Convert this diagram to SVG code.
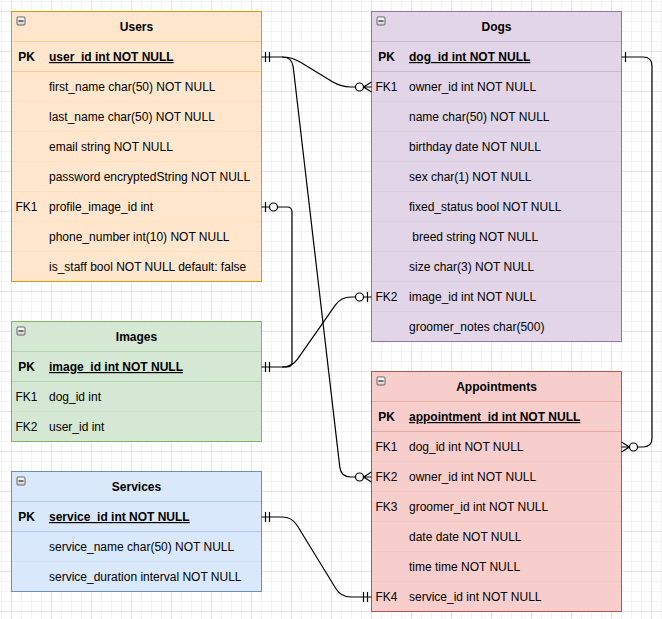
<svg xmlns="http://www.w3.org/2000/svg" width="662" height="619" viewBox="0 0 662 619">
<defs>
<pattern id="grid" x="11" y="11" width="40" height="40" patternUnits="userSpaceOnUse">
<path d="M10.5 0V40M20.5 0V40M30.5 0V40M0 10.5H40M0 20.5H40M0 30.5H40" stroke="#f3f3f3" stroke-width="1" fill="none"/>
<path d="M0.5 0V40M0 0.5H40" stroke="#e4e4e4" stroke-width="1" fill="none"/>
</pattern>
<linearGradient id="btn" x1="0" y1="0" x2="0" y2="1"><stop offset="0" stop-color="#ffffff"/><stop offset="1" stop-color="#d0d0d0"/></linearGradient>
<g id="collapse"><rect x="0.5" y="0.5" width="8" height="8" fill="url(#btn)" stroke="#666" stroke-width="1" rx="1"/><path d="M2 4.5H7" stroke="#222" stroke-width="1.2"/></g>
</defs>
<style>
text{font-family:"Liberation Sans",Arial,Helvetica,sans-serif;font-size:12px;fill:#000;}
.title{font-weight:bold;text-anchor:middle;}
.key{text-anchor:middle;}
.pk{font-weight:bold;}
.pkf{font-weight:bold;text-decoration:underline;}
.sep{stroke-width:1;fill:none;}
.edge{fill:none;stroke:#000;stroke-width:1.2;}
.mk{fill:none;stroke:#000;stroke-width:1.2;}
.circ{fill:#fff;stroke:#000;stroke-width:1.2;}
</style>
<rect width="662" height="619" fill="#fff"/>
<rect width="662" height="619" fill="url(#grid)"/>

<g id="users">
<rect x="11.5" y="11.5" width="250" height="270" fill="#ffe6cc" stroke="#d79b00"/>
<path class="sep" stroke="#d79b00" stroke-opacity="0.3" d="M11.5 41.5H261.5M11.5 71.5H261.5"/>
<path class="sep" stroke="#d79b00" stroke-opacity="0.07" d="M11.5 101.5H261.5M11.5 131.5H261.5M11.5 161.5H261.5M11.5 191.5H261.5M11.5 221.5H261.5M11.5 251.5H261.5"/>
<use href="#collapse" x="16.5" y="16.5"/>
<text class="title" x="136.5" y="31">Users</text>
<text class="key pk" x="26.5" y="61">PK</text>
<text class="pkf" x="49" y="61">user_id int NOT NULL</text>
<text x="49" y="91">first_name char(50) NOT NULL</text>
<text x="49" y="121">last_name char(50) NOT NULL</text>
<text x="49" y="151">email string NOT NULL</text>
<text x="49" y="181">password encryptedString NOT NULL</text>
<text class="key" x="26.5" y="211">FK1</text>
<text x="49" y="211">profile_image_id int</text>
<text x="49" y="241">phone_number int(10) NOT NULL</text>
<text x="49" y="271">is_staff bool NOT NULL default: false</text>
</g>

<g id="dogs">
<rect x="371.5" y="11.5" width="250" height="330" fill="#e1d5e7" stroke="#9673a6"/>
<path class="sep" stroke="#9673a6" stroke-opacity="0.3" d="M371.5 41.5H621.5M371.5 71.5H621.5"/>
<path class="sep" stroke="#9673a6" stroke-opacity="0.07" d="M371.5 101.5H621.5M371.5 131.5H621.5M371.5 161.5H621.5M371.5 191.5H621.5M371.5 221.5H621.5M371.5 251.5H621.5M371.5 281.5H621.5M371.5 311.5H621.5"/>
<use href="#collapse" x="376.5" y="16.5"/>
<text class="title" x="496.5" y="31">Dogs</text>
<text class="key pk" x="386.5" y="61">PK</text>
<text class="pkf" x="409" y="61">dog_id int NOT NULL</text>
<text class="key" x="386.5" y="91">FK1</text>
<text x="409" y="91">owner_id int NOT NULL</text>
<text x="409" y="121">name char(50) NOT NULL</text>
<text x="409" y="151">birthday date NOT NULL</text>
<text x="409" y="181">sex char(1) NOT NULL</text>
<text x="409" y="211">fixed_status bool NOT NULL</text>
<text x="409" y="241" xml:space="preserve" style="white-space:pre"> breed string NOT NULL</text>
<text x="409" y="271">size char(3) NOT NULL</text>
<text class="key" x="386.5" y="301">FK2</text>
<text x="409" y="301">image_id int NOT NULL</text>
<text x="409" y="331">groomer_notes char(500)</text>
</g>

<g id="images">
<rect x="11.5" y="321.5" width="250" height="120" fill="#d5e8d4" stroke="#82b366"/>
<path class="sep" stroke="#82b366" stroke-opacity="0.35" d="M11.5 351.5H261.5M11.5 381.5H261.5"/>
<path class="sep" stroke="#82b366" stroke-opacity="0.07" d="M11.5 411.5H261.5"/>
<use href="#collapse" x="16.5" y="326.5"/>
<text class="title" x="136.5" y="341">Images</text>
<text class="key pk" x="26.5" y="371">PK</text>
<text class="pkf" x="49" y="371">image_id int NOT NULL</text>
<text class="key" x="26.5" y="401">FK1</text>
<text x="49" y="401">dog_id int</text>
<text class="key" x="26.5" y="431">FK2</text>
<text x="49" y="431">user_id int</text>
</g>

<g id="services">
<rect x="11.5" y="471.5" width="250" height="120" fill="#dae8fc" stroke="#6c8ebf"/>
<path class="sep" stroke="#6c8ebf" stroke-opacity="0.35" d="M11.5 501.5H261.5M11.5 531.5H261.5"/>
<path class="sep" stroke="#6c8ebf" stroke-opacity="0.07" d="M11.5 561.5H261.5"/>
<use href="#collapse" x="16.5" y="476.5"/>
<text class="title" x="136.5" y="491">Services</text>
<text class="key pk" x="26.5" y="521">PK</text>
<text class="pkf" x="49" y="521">service_id int NOT NULL</text>
<text x="49" y="551">service_name char(50) NOT NULL</text>
<text x="49" y="581">service_duration interval NOT NULL</text>
</g>

<g id="appointments">
<rect x="371.5" y="371.5" width="250" height="240" fill="#f8cecc" stroke="#b85450"/>
<path class="sep" stroke="#b85450" stroke-opacity="0.3" d="M371.5 401.5H621.5M371.5 431.5H621.5"/>
<path class="sep" stroke="#b85450" stroke-opacity="0.07" d="M371.5 461.5H621.5M371.5 491.5H621.5M371.5 521.5H621.5M371.5 551.5H621.5M371.5 581.5H621.5"/>
<use href="#collapse" x="376.5" y="376.5"/>
<text class="title" x="496.5" y="391">Appointments</text>
<text class="key pk" x="386.5" y="421">PK</text>
<text class="pkf" x="409" y="421">appointment_id int NOT NULL</text>
<text class="key" x="386.5" y="451">FK1</text>
<text x="409" y="451">dog_id int NOT NULL</text>
<text class="key" x="386.5" y="481">FK2</text>
<text x="409" y="481">owner_id int NOT NULL</text>
<text class="key" x="386.5" y="511">FK3</text>
<text x="409" y="511">groomer_id int NOT NULL</text>
<text x="409" y="541">date date NOT NULL</text>
<text x="409" y="571">time time NOT NULL</text>
<text class="key" x="386.5" y="601">FK4</text>
<text x="409" y="601">service_id int NOT NULL</text>
</g>

<g id="connectors">
<path class="edge" d="M261.5 57L282 57Q292 57 300.5 62.2L332.5 81.8Q341 87 351 87L355.5 87"/>
<path class="edge" d="M282 57Q292 57 293.2 66.9L339.8 467.1Q341 477 351 477L355.5 477"/>
<path class="edge" d="M277.5 207L287 207Q292 207 292 212L292 362Q292 367 287 367L261.5 367"/>
<path class="edge" d="M282 367Q292 367 297.7 358.8L335.3 305.2Q341 297 351 297L355.5 297"/>
<path class="edge" d="M261.5 517L282 517Q292 517 297.2 525.5L335.8 588.5Q341 597 351 597L371.5 597"/>
<path class="edge" d="M621.5 57L643 57Q652 57 652 66L652 438Q652 447 643 447L637.5 447"/>

<path class="mk" d="M265.5 52V62M269.5 52V62"/>
<path class="mk" d="M363.5 87L371.5 82M363.5 87L371.5 92M363.5 87H371.5"/>
<circle class="circ" cx="359.5" cy="87" r="4"/>
<path class="mk" d="M363.5 477L371.5 472M363.5 477L371.5 482M363.5 477H371.5"/>
<circle class="circ" cx="359.5" cy="477" r="4"/>
<path class="mk" d="M261.5 207H269.5M265.5 202V212"/>
<circle class="circ" cx="273.5" cy="207" r="4"/>
<path class="mk" d="M265.5 362V372M269.5 362V372"/>
<path class="mk" d="M363.5 297H371.5M367.5 292V302"/>
<circle class="circ" cx="359.5" cy="297" r="4"/>
<path class="mk" d="M265.5 512V522M269.5 512V522"/>
<path class="mk" d="M363.5 592V602M367.5 592V602"/>
<path class="mk" d="M625.5 52V62"/>
<path class="mk" d="M629.5 447L621.5 442M629.5 447L621.5 452M629.5 447H621.5"/>
<circle class="circ" cx="633.5" cy="447" r="4"/>
</g>
</svg>
